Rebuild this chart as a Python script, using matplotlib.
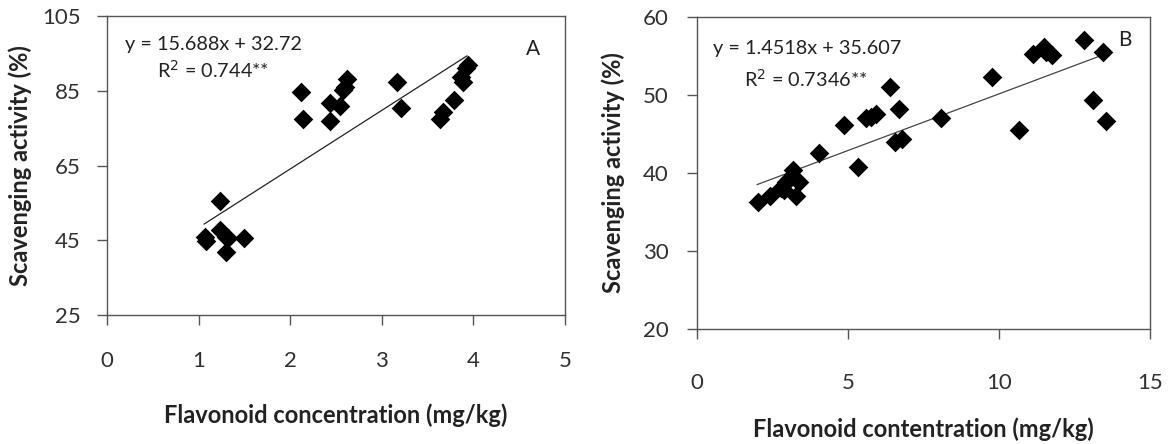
import numpy as np
import matplotlib
matplotlib.use("Agg")
import matplotlib.pyplot as plt

plt.rcParams['font.family'] = ['Lato', 'DejaVu Sans']

# panel A data (flavonoid mg/kg vs scavenging %)
a_x = [1.07, 1.08, 1.23, 1.23, 1.30, 1.32, 1.30, 1.50, 2.12, 2.14, 2.43, 2.43, 2.54,
       2.58, 2.62, 2.60, 3.17, 3.21, 3.64, 3.67, 3.79, 3.89, 3.87, 3.94, 3.92]
a_y = [45.8, 44.9, 55.5, 47.8, 46.0, 45.6, 41.8, 45.5, 84.6, 77.6, 77.0, 81.7, 81.0,
       85.2, 88.2, 86.0, 87.3, 80.3, 77.6, 79.4, 82.5, 87.4, 88.8, 91.9, 91.0]
a_slope, a_icpt = 15.688, 32.72
a_fit_x = [1.06, 3.93]

# panel B data
b_x = [2.02, 2.43, 2.79, 2.90, 2.96, 3.20, 3.40, 3.29, 3.07, 4.06, 4.89, 5.35, 5.59,
       5.77, 5.92, 6.40, 6.71, 6.55, 6.80, 8.09, 9.78, 10.66, 11.13, 11.49, 11.57,
       11.77, 12.81, 13.11, 13.44, 13.53]
b_y = [36.3, 37.0, 38.1, 37.8, 38.9, 40.4, 38.9, 37.0, 39.2, 42.5, 46.2, 40.7, 47.0,
       47.2, 47.6, 51.0, 48.2, 44.0, 44.4, 47.0, 52.3, 45.5, 55.3, 56.2, 55.5,
       55.1, 57.0, 49.3, 55.5, 46.6]
b_slope, b_icpt = 1.4518, 35.607
b_fit_x = [2.0, 13.4]

fig = plt.figure(figsize=(11.71, 4.44), dpi=100)
axA = fig.add_axes([0.0914, 0.2905, 0.391, 0.673])
axB = fig.add_axes([0.595, 0.259, 0.387, 0.703])


def style(ax, xlim, xticks, ylim, yticks, xpad, ypad):
    ax.set_xlim(*xlim)
    ax.set_ylim(*ylim)
    ax.set_xticks(xticks)
    ax.set_yticks(yticks)
    for s in ax.spines.values():
        s.set_color('#555555')
        s.set_linewidth(1.0)
    ax.tick_params(direction='out', length=7, width=1, color='#555555',
                   labelsize=16, labelcolor='#303030')
    ax.tick_params(axis='x', pad=xpad)
    ax.tick_params(axis='y', pad=ypad)


# panel A
axA.scatter(a_x, a_y, marker='D', s=100, color='black', zorder=3, linewidths=0)
fx = np.array(a_fit_x)
axA.plot(fx, a_slope * fx + a_icpt, color='#222222', lw=0.9)
style(axA, (0, 5), [0, 1, 2, 3, 4, 5], (25, 105), [25, 45, 65, 85, 105], 19, 12)
axA.set_xlabel('Flavonoid concentration (mg/kg)', fontsize=17, fontweight='bold',
               color='#222222', labelpad=23)
axA.set_ylabel('Scavenging activity (%)', fontsize=17, fontweight='bold',
               color='#222222', labelpad=7)
axA.text(0.04, 0.905, 'y = 15.688x + 32.72', transform=axA.transAxes,
         fontsize=14.3, color='#222222', va='center')
axA.text(0.11, 0.82, 'R$^2$ = 0.744**', transform=axA.transAxes,
         fontsize=14.3, color='#222222', va='center')
axA.text(0.915, 0.89, 'A', transform=axA.transAxes, fontsize=15,
         color='#222222', va='center')

# panel B
axB.scatter(b_x, b_y, marker='D', s=100, color='black', zorder=3, linewidths=0)
fx = np.array(b_fit_x)
axB.plot(fx, b_slope * fx + b_icpt, color='#444444', lw=0.9)
style(axB, (0, 15), [0, 5, 10, 15], (20, 60), [20, 30, 40, 50, 60], 25, 13)
axB.set_xlabel('Flavonoid contentration (mg/kg)', fontsize=17, fontweight='bold',
               color='#222222', labelpad=17)
axB.set_ylabel('Scavenging activity (%)', fontsize=17, fontweight='bold',
               color='#222222', labelpad=13)
axB.text(0.035, 0.9, 'y = 1.4518x + 35.607', transform=axB.transAxes,
         fontsize=14.3, color='#222222', va='center')
axB.text(0.105, 0.8, 'R$^2$ = 0.7346**', transform=axB.transAxes,
         fontsize=14.3, color='#222222', va='center')
axB.text(0.93, 0.925, 'B', transform=axB.transAxes, fontsize=15,
         color='#222222', va='center')

fig.savefig('out.png', dpi=100)
